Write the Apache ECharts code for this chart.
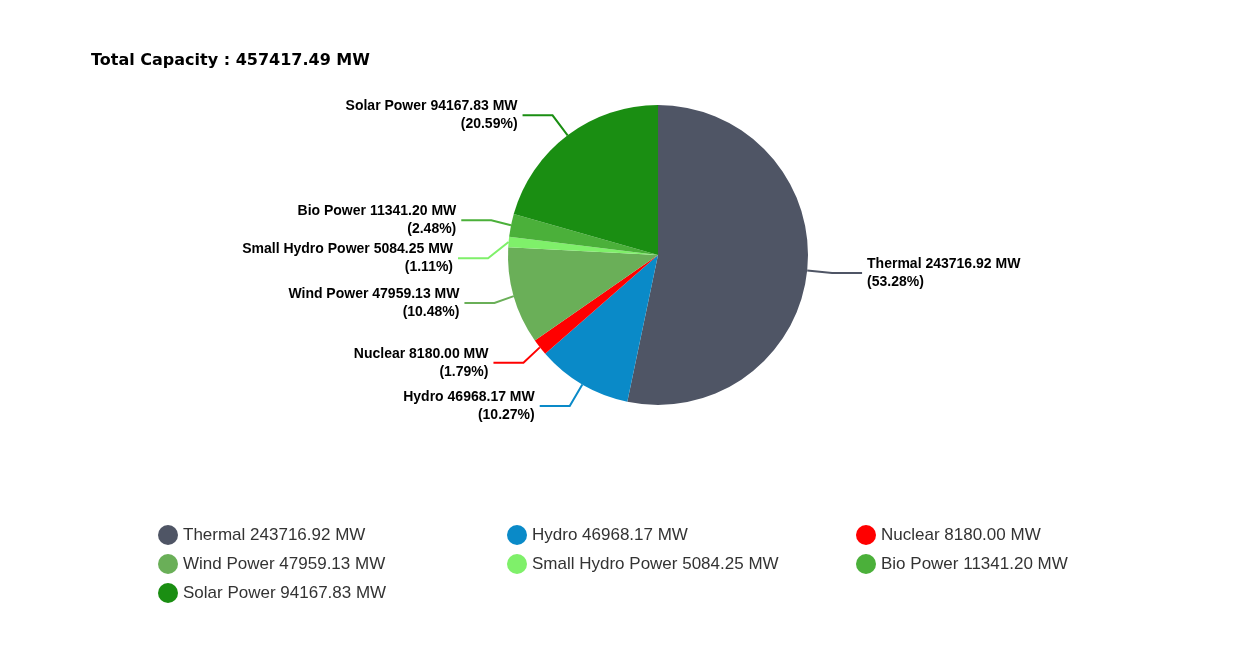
<!DOCTYPE html>
<html><head><meta charset="utf-8">
<script src="https://cdn.jsdelivr.net/npm/echarts@6/dist/echarts.min.js"></script>
<style>html,body{margin:0;padding:0;background:#fff}#c{width:1259px;height:665px}</style>
</head><body><div id="c"></div>
<script>
const categories = ["Thermal","Hydro","Nuclear","Wind Power","Small Hydro Power","Bio Power","Solar Power"];
const values = [243716.92,46968.17,8180.00,47959.13,5084.25,11341.20,94167.83];
const colors = ["#4f5565","#0a8ac8","#ff0000","#6aaf58","#7ff06a","#4bb03a","#1a8e12"];
const total = "457417.49";
const fmt = v => v.toFixed(2);
const names = categories.map((c,i)=>c+" "+fmt(values[i])+" MW");
const chart = echarts.init(document.getElementById('c'));
const lg = (left, idx) => ({left:left,top:520,orient:"vertical",itemWidth:20,itemHeight:20,itemGap:9,icon:"circle",
    data:idx.map(i=>names[i]),textStyle:{fontFamily:"Liberation Sans",fontSize:17,color:"#333"}});
chart.setOption({
  animation:false,
  title:{text:"Total Capacity : "+total+" MW",left:86,top:48,textStyle:{fontFamily:"DejaVu Sans",fontWeight:"bold",fontSize:16,color:"#000"}},
  legend:[lg(153,[0,3,6]),lg(502,[1,4]),lg(851,[2,5])],
  series:[{type:"pie",center:[658,255],radius:150,startAngle:90,clockwise:true,
    data:names.map((n,i)=>({name:n,value:values[i],itemStyle:{color:colors[i]},labelLine:{lineStyle:{color:colors[i],width:2}}})),
    label:{fontFamily:"Liberation Sans",fontWeight:"bold",fontSize:14,color:"#000",lineHeight:18,
      formatter:p=>p.name+"\n("+p.percent.toFixed(2)+"%)"},
    labelLine:{length:25,length2:30},
    percentPrecision:2
  }]
});
</script></body></html>
